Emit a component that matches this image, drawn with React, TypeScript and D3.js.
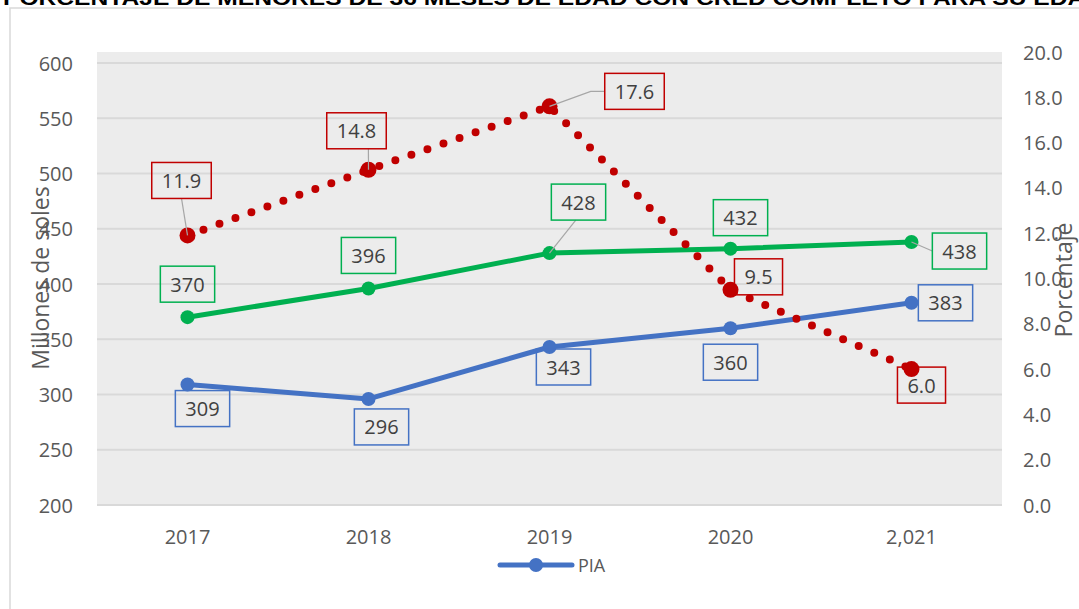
import React from "react";
import * as d3 from "d3";

const years = ["2017", "2018", "2019", "2020", "2,021"];
const piaValues = [309, 296, 343, 360, 383];
const greenValues = [370, 396, 428, 432, 438];
const pctValues = [11.9, 14.8, 17.6, 9.5, 6.0];
const leftTicks = [200, 250, 300, 350, 400, 450, 500, 550, 600];
const rightTicks = [0, 2, 4, 6, 8, 10, 12, 14, 16, 18, 20];
const title = "PORCENTAJE DE MENORES DE 36 MESES DE EDAD CON CRED COMPLETO PARA SU EDAD";

// label layout (box centre offsets from the point, leader style)
const pctLabelPos = [
  { dx: -6, dy: -55, leader: [0.5, 1] },
  { dx: -12, dy: -39, leader: [0.7, 1] },
  { dx: 85, dy: -15, leader: "elbow" },
  { dx: 28, dy: -13, leader: null },
  { dx: 10, dy: 16, leader: null },
];
const greenLabelPos = [
  { dx: 0, dy: -33, leader: null },
  { dx: 0, dy: -33, leader: null },
  { dx: 29, dy: -51, leader: [0.45, 1] },
  { dx: 10, dy: -31, leader: null },
  { dx: 48, dy: 9, leader: [0, 0.5] },
];
const blueLabelPos = [
  { dx: 15, dy: 24, leader: null },
  { dx: 13, dy: 28, leader: null },
  { dx: 14, dy: 20, leader: null },
  { dx: 0, dy: 34, leader: null },
  { dx: 34, dy: 0, leader: null },
];

const W = 1079;
const H = 609;
const plot = { left: 97, right: 1002, top: 52, bottom: 505 };
const FONT = "'Open Sans', 'Noto Sans', sans-serif";
const TICK_COLOR = "#595959";
const BLUE = "#4472C4";
const GREEN = "#00B050";
const RED = "#C00000";

function textWidth(s: string, size: number) {
  let w = 0;
  for (const ch of s) {
    if (ch === "." || ch === ",") w += 0.26 * size;
    else w += 0.572 * size;
  }
  return w;
}

export default function App() {
  const x = d3
    .scalePoint<string>()
    .domain(years)
    .range([plot.left, plot.right])
    .padding(0.5);
  const yL = d3.scaleLinear().domain([200, 610]).range([plot.bottom, plot.top]);
  const yR = d3.scaleLinear().domain([0, 20]).range([plot.bottom, plot.top]);

  const lineL = d3
    .line<number>()
    .x((_, i) => x(years[i]) as number)
    .y((d) => yL(d));
  const lineR = d3
    .line<number>()
    .x((_, i) => x(years[i]) as number)
    .y((d) => yR(d));

  const renderLabels = (
    values: number[],
    scale: (v: number) => number,
    pos: any[],
    color: string,
    fmt: (v: number) => string
  ) =>
    values.map((v, i) => {
      const px = x(years[i]) as number;
      const py = scale(v);
      const txt = fmt(v);
      const bw = textWidth(txt, 20) + 20;
      const bh = 36;
      const cx = px + pos[i].dx;
      const cy = py + pos[i].dy;
      const bx = cx - bw / 2;
      const by = cy - bh / 2;
      let leader: any = null;
      if (pos[i].leader === "elbow") {
        leader = (
          <polyline
            points={`${px},${py} ${bx - 14},${cy} ${bx},${cy}`}
            fill="none"
            stroke="#a6a6a6"
            strokeWidth={1.2}
          />
        );
      } else if (pos[i].leader) {
        const [fx, fy] = pos[i].leader;
        leader = (
          <line
            x1={px}
            y1={py}
            x2={bx + fx * bw}
            y2={by + fy * bh}
            stroke="#a6a6a6"
            strokeWidth={1.2}
          />
        );
      }
      return (
        <g key={i}>
          {leader}
          <rect x={bx} y={by} width={bw} height={bh} fill="none" stroke={color} strokeWidth={1.5} />
          <text
            x={cx}
            y={cy}
            textAnchor="middle"
            dominantBaseline="central"
            fontFamily={FONT}
            fontSize={20}
            fill="#404040"
          >
            {txt}
          </text>
        </g>
      );
    });

  return (
    <svg
      width={W}
      height={H}
      style={{ position: "absolute", left: 0, top: 0, background: "#fff" }}
    >
      <rect x={10} y={8} width={W + 20} height={H + 20} fill="#fff" stroke="#d9d9d9" strokeWidth={1.5} />
      <text
        x={3}
        y={5}
        fontFamily="'Liberation Sans', Arial, sans-serif"
        fontWeight="bold"
        fontSize={20}
        fill="#000"
        textLength={1100}
        lengthAdjust="spacingAndGlyphs"
      >
        {title}
      </text>

      <rect
        x={plot.left}
        y={plot.top}
        width={plot.right - plot.left}
        height={plot.bottom - plot.top}
        fill="#ececec"
      />
      {leftTicks.map((t) => (
        <line
          key={t}
          x1={plot.left}
          x2={plot.right}
          y1={yL(t)}
          y2={yL(t)}
          stroke="#d9d9d9"
          strokeWidth={2}
        />
      ))}

      {leftTicks.map((t) => (
        <text
          key={t}
          x={73}
          y={yL(t)}
          textAnchor="end"
          dominantBaseline="central"
          fontFamily={FONT}
          fontSize={20}
          fill={TICK_COLOR}
        >
          {t}
        </text>
      ))}
      {rightTicks.map((t) => (
        <text
          key={t}
          x={1023}
          y={yR(t)}
          textAnchor="start"
          dominantBaseline="central"
          fontFamily={FONT}
          fontSize={20}
          fill={TICK_COLOR}
        >
          {t.toFixed(1)}
        </text>
      ))}
      {years.map((yv) => (
        <text
          key={yv}
          x={x(yv)}
          y={536}
          textAnchor="middle"
          dominantBaseline="central"
          fontFamily={FONT}
          fontSize={20}
          fill={TICK_COLOR}
        >
          {yv}
        </text>
      ))}

      <text
        transform={`translate(40, 278) rotate(-90)`}
        textAnchor="middle"
        dominantBaseline="central"
        fontFamily={FONT}
        fontSize={23}
        fill={TICK_COLOR}
      >
        Millones de soles
      </text>
      <text
        transform={`translate(1063, 280) rotate(-90)`}
        textAnchor="middle"
        dominantBaseline="central"
        fontFamily={FONT}
        fontSize={23}
        fill={TICK_COLOR}
      >
        Porcentaje
      </text>

      {/* blue PIA */}
      <path d={lineL(piaValues) || ""} fill="none" stroke={BLUE} strokeWidth={5} strokeLinejoin="round" />
      {piaValues.map((v, i) => (
        <circle key={i} cx={x(years[i])} cy={yL(v)} r={7} fill={BLUE} />
      ))}

      {/* green */}
      <path d={lineL(greenValues) || ""} fill="none" stroke={GREEN} strokeWidth={5} strokeLinejoin="round" />
      {greenValues.map((v, i) => (
        <circle key={i} cx={x(years[i])} cy={yL(v)} r={7} fill={GREEN} />
      ))}

      {/* red percentage */}
      <path
        d={lineR(pctValues) || ""}
        fill="none"
        stroke={RED}
        strokeWidth={8}
        strokeLinecap="round"
        strokeDasharray="0 17"
      />
      {pctValues.map((v, i) => (
        <circle key={i} cx={x(years[i])} cy={yR(v)} r={8} fill={RED} />
      ))}

      {renderLabels(piaValues, yL, blueLabelPos, BLUE, (v) => String(v))}
      {renderLabels(greenValues, yL, greenLabelPos, GREEN, (v) => String(v))}
      {renderLabels(pctValues, yR, pctLabelPos, RED, (v) => v.toFixed(1))}

      {/* legend */}
      <line x1={500} x2={572} y1={565} y2={565} stroke={BLUE} strokeWidth={5} strokeLinecap="round" />
      <circle cx={536} cy={565} r={7} fill={BLUE} />
      <text
        x={578}
        y={565}
        dominantBaseline="central"
        fontFamily={FONT}
        fontSize={18}
        fill={TICK_COLOR}
      >
        PIA
      </text>
    </svg>
  );
}
